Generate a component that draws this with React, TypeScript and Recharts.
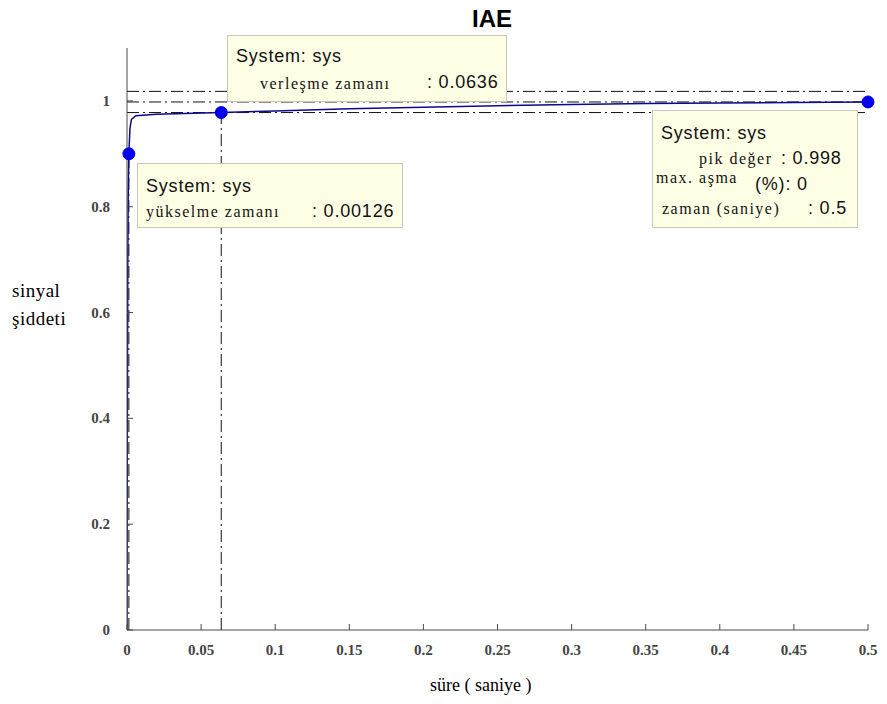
import React from "react";
import { LineChart, Line, XAxis, YAxis, ReferenceLine, ReferenceDot } from "recharts";

// step response samples (time in s, signal level)
const times = [0, 0.0002, 0.0005, 0.0008, 0.00126, 0.002, 0.003, 0.006, 0.02, 0.0636, 0.1, 0.15, 0.2, 0.25, 0.3, 0.35, 0.4, 0.45, 0.5];
const response = [0, 0.35, 0.68, 0.82, 0.9, 0.948, 0.965, 0.972, 0.975, 0.978, 0.981, 0.985, 0.988, 0.991, 0.993, 0.995, 0.996, 0.997, 0.998];

const xTicks = [0, 0.05, 0.1, 0.15, 0.2, 0.25, 0.3, 0.35, 0.4, 0.45, 0.5];
const yTicks = [0, 0.2, 0.4, 0.6, 0.8, 1];

const riseTime = 0.00126;
const riseLevel = 0.9;
const settleTime = 0.0636;
const settleLevel = 0.978;
const peakTime = 0.5;
const peakValue = 0.998;
const bandUpper = 1.018;
const bandLower = 0.978;

const data = times.map((t, i) => ({ t, y: response[i] }));

const AXIS = "#4a4a4a";
const DASH = "12 4 2 4";
const TICK_FONT = { fontFamily: "'Liberation Serif', serif", fontWeight: 700, fontSize: 15, fill: "#444" };

const BottomTick = (p: any) => (
  <g>
    <line x1={p.x} x2={p.x} y1={p.y} y2={p.y - 6} stroke={AXIS} />
    <text x={p.x} y={p.y + 25} textAnchor="middle" {...TICK_FONT}>{p.payload.value}</text>
  </g>
);
const TopTick = (p: any) => <line x1={p.x} x2={p.x} y1={p.y} y2={p.y + 6} stroke={AXIS} />;
const LeftTick = (p: any) => (
  <g>
    <line x1={p.x} x2={p.x + 6} y1={p.y} y2={p.y} stroke={AXIS} />
    <text x={p.x - 17} y={p.y + 5} textAnchor="end" {...TICK_FONT}>{p.payload.value}</text>
  </g>
);
const RightTick = (p: any) => <line x1={p.x} x2={p.x - 6} y1={p.y} y2={p.y} stroke={AXIS} />;

const sans = "Arial, 'Liberation Sans', sans-serif";
const serif = "'Times New Roman', 'Liberation Serif', serif";

const boxStyle: React.CSSProperties = {
  position: "absolute",
  background: "#ffffe6",
  border: "1px solid #c9c9b8",
  boxSizing: "border-box",
};

// datatip text: sans for values, serif for the Turkish captions
const S = ({ x, y, children }: any) => (
  <span style={{ position: "absolute", left: x, top: y, fontFamily: sans, fontSize: 18, letterSpacing: 0.8, color: "#111", whiteSpace: "nowrap", lineHeight: 1 }}>
    {children}
  </span>
);
const R = ({ x, y, children }: any) => (
  <span style={{ position: "absolute", left: x, top: y, fontFamily: serif, fontSize: 16, letterSpacing: 1.5, color: "#111", whiteSpace: "nowrap", lineHeight: 1 }}>
    {children}
  </span>
);

export default function App() {
  return (
    <div style={{ position: "absolute", left: 0, top: 0, width: 887, height: 704, background: "#fff" }}>
      <LineChart width={887} height={704} data={data} margin={{ top: 48, right: 19, bottom: 44, left: 97 }}>
        <XAxis dataKey="t" type="number" domain={[0, 0.5]} ticks={xTicks} height={30} tickSize={0} tickMargin={0}
          tick={<BottomTick />} axisLine={{ stroke: AXIS }} tickLine={false} allowDataOverflow />
        <XAxis xAxisId="top" dataKey="t" type="number" orientation="top" domain={[0, 0.5]} ticks={xTicks} height={0}
          tickSize={0} tickMargin={0} tick={<TopTick />} axisLine={{ stroke: AXIS }} tickLine={false} />
        <YAxis type="number" domain={[0, 1.1]} ticks={yTicks} width={30} tickSize={0} tickMargin={0}
          tick={<LeftTick />} axisLine={{ stroke: AXIS }} tickLine={false} allowDataOverflow />
        <YAxis yAxisId="right" orientation="right" type="number" domain={[0, 1.1]} ticks={yTicks} width={0}
          tickSize={0} tickMargin={0} tick={<RightTick />} axisLine={{ stroke: AXIS }} tickLine={false} />

        <ReferenceLine y={bandUpper} stroke="#111" strokeDasharray={DASH} />
        <ReferenceLine y={peakValue} stroke="#111" strokeDasharray={DASH} />
        <ReferenceLine y={bandLower} stroke="#111" strokeDasharray={DASH} />
        <ReferenceLine segment={[{ x: riseTime, y: 0 }, { x: riseTime, y: riseLevel }]} stroke="#111" strokeDasharray={DASH} />
        <ReferenceLine segment={[{ x: settleTime, y: 0 }, { x: settleTime, y: settleLevel }]} stroke="#111" strokeDasharray={DASH} />

        <Line dataKey="y" type="linear" stroke="#0a0a8c" strokeWidth={1.5} dot={false} isAnimationActive={false} />

        <ReferenceDot x={riseTime} y={riseLevel} r={6} fill="#0000ee" stroke="#0000ee" />
        <ReferenceDot x={settleTime} y={settleLevel} r={6} fill="#0000ee" stroke="#0000ee" />
        <ReferenceDot x={peakTime} y={peakValue} r={6} fill="#0000ee" stroke="#0000ee" />
      </LineChart>

      <div style={{ position: "absolute", left: 472, top: 5, fontFamily: sans, fontWeight: 700, fontSize: 24 }}>IAE</div>
      <div style={{ position: "absolute", left: 12, top: 277, fontFamily: serif, fontSize: 19, letterSpacing: 0.5, lineHeight: "28px" }}>
        sinyal<br />şiddeti
      </div>
      <div style={{ position: "absolute", left: 430, top: 675, fontFamily: serif, fontSize: 18 }}>süre ( saniye )</div>

      <div style={{ ...boxStyle, left: 227, top: 35, width: 280, height: 67 }}>
        <S x={8} y={11}>System: sys</S>
        <R x={32} y={40}>verleşme zamanı</R>
        <S x={199} y={37}>: 0.0636</S>
      </div>

      <div style={{ ...boxStyle, left: 137, top: 163, width: 266, height: 65 }}>
        <S x={8} y={13}>System: sys</S>
        <R x={8} y={40}>yükselme zamanı</R>
        <S x={174} y={38}>: 0.00126</S>
      </div>

      <div style={{ ...boxStyle, left: 652, top: 110, width: 206, height: 118 }}>
        <S x={8} y={13}>System: sys</S>
        <R x={46} y={40}>pik değer</R>
        <S x={128} y={38}>: 0.998</S>
        <R x={3} y={59}>max. aşma</R>
        <S x={102} y={64}>(%): 0</S>
        <R x={9} y={90}>zaman (saniye)</R>
        <S x={155} y={88}>: 0.5</S>
      </div>
    </div>
  );
}
